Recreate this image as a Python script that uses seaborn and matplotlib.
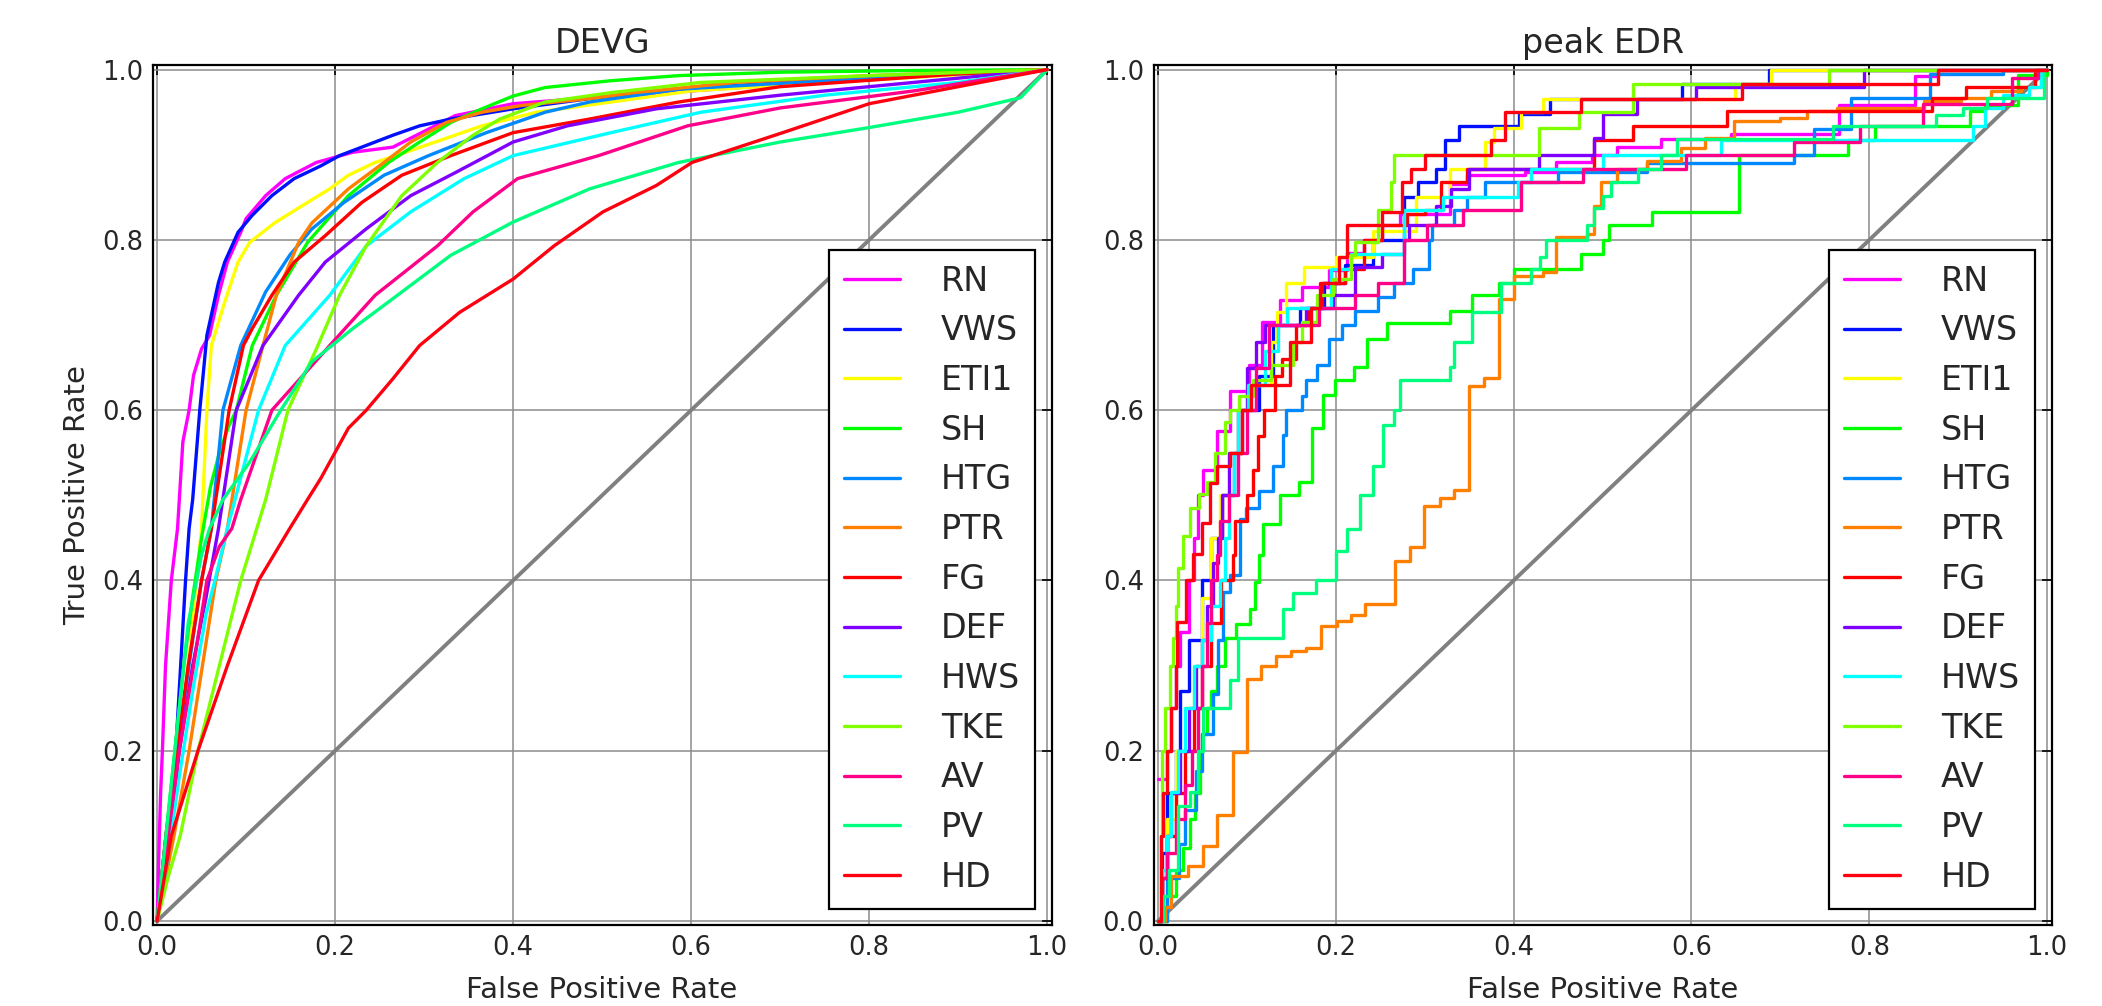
import matplotlib
matplotlib.use("Agg")
import matplotlib.pyplot as plt
import seaborn as sns
import pandas as pd

# ---------------- data ----------------
NAMES = ["RN", "VWS", "ETI1", "SH", "HTG", "PTR", "FG", "DEF", "HWS", "TKE", "AV", "PV", "HD"]
COLORS = ["#ff00ff", "#0010ff", "#ffff00", "#00ff00", "#0088ff", "#ff7f00", "#ff0000",
          "#7f00ff", "#00ffff", "#7fff00", "#ff0088", "#00ff7f", "#ff0010"]
TICKS = [0.0, 0.2, 0.4, 0.6, 0.8, 1.0]
TICK_LABELS = ["0.0", "0.2", "0.4", "0.6", "0.8", "1.0"]
DIAG = [0.0, 1.0]

# DEVG panel (smooth ROC curves)
DEVG_RN_FPR = [0, 0.002, 0.004, 0.006, 0.0095, 0.016, 0.023, 0.029, 0.036, 0.041, 0.050, 0.059, 0.069, 0.079, 0.094, 0.100, 0.122, 0.144, 0.179, 0.220, 0.265, 0.335, 0.400, 0.500, 0.600, 0.800, 1.0]
DEVG_RN_TPR = [0, 0.08, 0.15, 0.20, 0.30, 0.40, 0.461, 0.563, 0.60, 0.641, 0.672, 0.688, 0.735, 0.774, 0.809, 0.825, 0.852, 0.872, 0.891, 0.903, 0.909, 0.946, 0.96, 0.968, 0.975, 0.99, 1.0]
DEVG_VWS_FPR = [0, 0.011, 0.021, 0.032, 0.036, 0.040, 0.048, 0.056, 0.069, 0.076, 0.091, 0.107, 0.129, 0.154, 0.184, 0.205, 0.235, 0.265, 0.295, 0.33, 0.40, 0.486, 0.586, 0.75, 0.9, 1.0]
DEVG_VWS_TPR = [0, 0.1, 0.2, 0.4, 0.461, 0.495, 0.60, 0.688, 0.75, 0.774, 0.809, 0.829, 0.852, 0.872, 0.887, 0.899, 0.911, 0.923, 0.934, 0.942, 0.954, 0.966, 0.977, 0.988, 0.995, 1.0]
DEVG_ETI1_FPR = [0, 0.012, 0.025, 0.038, 0.046, 0.050, 0.056, 0.061, 0.076, 0.091, 0.104, 0.132, 0.169, 0.194, 0.215, 0.245, 0.285, 0.365, 0.426, 0.51, 0.6, 0.8, 1.0]
DEVG_ETI1_TPR = [0, 0.1, 0.2, 0.33, 0.42, 0.461, 0.60, 0.676, 0.727, 0.774, 0.797, 0.82, 0.844, 0.86, 0.876, 0.891, 0.905, 0.934, 0.95, 0.962, 0.975, 0.988, 1.0]
DEVG_SH_FPR = [0, 0.01, 0.02, 0.03, 0.04, 0.05, 0.06, 0.07, 0.08, 0.089, 0.107, 0.134, 0.169, 0.215, 0.26, 0.295, 0.33, 0.365, 0.40, 0.436, 0.51, 0.586, 0.7, 0.85, 1.0]
DEVG_SH_TPR = [0, 0.1, 0.2, 0.3, 0.38, 0.45, 0.51, 0.55, 0.58, 0.60, 0.676, 0.735, 0.797, 0.852, 0.891, 0.915, 0.938, 0.954, 0.969, 0.979, 0.987, 0.993, 0.997, 0.999, 1.0]
DEVG_HTG_FPR = [0, 0.01, 0.025, 0.04, 0.05, 0.061, 0.074, 0.094, 0.122, 0.149, 0.174, 0.21, 0.255, 0.305, 0.37, 0.436, 0.486, 0.586, 0.8, 1.0]
DEVG_HTG_TPR = [0, 0.1, 0.22, 0.33, 0.40, 0.461, 0.60, 0.676, 0.739, 0.782, 0.813, 0.844, 0.876, 0.899, 0.926, 0.95, 0.962, 0.977, 0.99, 1.0]
DEVG_PTR_FPR = [0, 0.019, 0.036, 0.051, 0.066, 0.079, 0.10, 0.119, 0.134, 0.159, 0.174, 0.215, 0.255, 0.285, 0.325, 0.365, 0.41, 0.486, 0.536, 0.65, 0.8, 1.0]
DEVG_PTR_TPR = [0, 0.1, 0.2, 0.3, 0.4, 0.461, 0.60, 0.676, 0.735, 0.797, 0.82, 0.86, 0.891, 0.915, 0.938, 0.95, 0.958, 0.966, 0.973, 0.985, 0.993, 1.0]
DEVG_FG_FPR = [0, 0.01, 0.02, 0.035, 0.05, 0.061, 0.081, 0.097, 0.107, 0.129, 0.154, 0.189, 0.23, 0.275, 0.33, 0.40, 0.486, 0.586, 0.7, 0.9, 1.0]
DEVG_FG_TPR = [0, 0.1, 0.18, 0.3, 0.4, 0.461, 0.60, 0.676, 0.696, 0.735, 0.774, 0.805, 0.844, 0.876, 0.899, 0.926, 0.942, 0.962, 0.98, 0.995, 1.0]
DEVG_DEF_FPR = [0, 0.012, 0.025, 0.04, 0.055, 0.069, 0.089, 0.119, 0.159, 0.189, 0.235, 0.285, 0.335, 0.40, 0.461, 0.561, 0.7, 0.85, 1.0]
DEVG_DEF_TPR = [0, 0.08, 0.2, 0.3, 0.38, 0.461, 0.60, 0.676, 0.735, 0.774, 0.813, 0.852, 0.879, 0.915, 0.934, 0.954, 0.97, 0.985, 1.0]
DEVG_HWS_FPR = [0, 0.01, 0.025, 0.04, 0.055, 0.065, 0.079, 0.114, 0.144, 0.194, 0.235, 0.285, 0.345, 0.40, 0.51, 0.611, 0.75, 0.9, 1.0]
DEVG_HWS_TPR = [0, 0.06, 0.17, 0.27, 0.36, 0.40, 0.461, 0.60, 0.676, 0.735, 0.793, 0.833, 0.872, 0.899, 0.926, 0.95, 0.97, 0.985, 1.0]
DEVG_TKE_FPR = [0, 0.012, 0.026, 0.046, 0.07, 0.094, 0.112, 0.122, 0.147, 0.179, 0.205, 0.235, 0.275, 0.315, 0.355, 0.385, 0.436, 0.51, 0.611, 0.8, 1.0]
DEVG_TKE_TPR = [0, 0.05, 0.1, 0.2, 0.3, 0.4, 0.461, 0.495, 0.60, 0.672, 0.735, 0.793, 0.852, 0.891, 0.923, 0.942, 0.962, 0.973, 0.985, 0.993, 1.0]
DEVG_AV_FPR = [0, 0.01, 0.025, 0.041, 0.056, 0.07, 0.084, 0.094, 0.129, 0.194, 0.245, 0.315, 0.355, 0.405, 0.496, 0.596, 0.7, 0.85, 1.0]
DEVG_AV_TPR = [0, 0.08, 0.2, 0.3, 0.4, 0.44, 0.461, 0.495, 0.60, 0.676, 0.735, 0.793, 0.833, 0.872, 0.899, 0.934, 0.955, 0.975, 1.0]
DEVG_PV_FPR = [0, 0.005, 0.02, 0.035, 0.05, 0.059, 0.074, 0.104, 0.139, 0.174, 0.22, 0.27, 0.33, 0.40, 0.486, 0.586, 0.7, 0.8, 0.9, 0.97, 1.0]
DEVG_PV_TPR = [0, 0.05, 0.2, 0.35, 0.43, 0.461, 0.495, 0.539, 0.60, 0.657, 0.696, 0.735, 0.782, 0.821, 0.86, 0.891, 0.915, 0.932, 0.95, 0.967, 1.0]
DEVG_HD_FPR = [0, 0.016, 0.046, 0.079, 0.114, 0.149, 0.169, 0.184, 0.215, 0.235, 0.265, 0.295, 0.34, 0.40, 0.446, 0.501, 0.561, 0.601, 0.7, 0.8, 0.9, 1.0]
DEVG_HD_TPR = [0, 0.1, 0.2, 0.3, 0.4, 0.461, 0.495, 0.52, 0.579, 0.60, 0.637, 0.676, 0.715, 0.754, 0.793, 0.833, 0.864, 0.891, 0.925, 0.96, 0.98, 1.0]

# peak EDR panel (stair-step ROC curves; each point = FPR where TPR jumps to that level)
EDR_RN_FPR = [0, 0.01, 0.015, 0.02, 0.025, 0.035, 0.04, 0.045, 0.051, 0.066, 0.081, 0.102, 0.117, 0.137, 0.162, 0.192, 0.212, 0.232, 0.252, 0.272, 0.328, 0.348, 0.413, 0.448, 0.488, 0.516, 0.566, 0.644, 0.766, 0.851, 0.877, 1.0]
EDR_RN_TPR = [0.167, 0.2, 0.25, 0.3, 0.34, 0.4, 0.45, 0.5, 0.53, 0.575, 0.623, 0.653, 0.704, 0.729, 0.745, 0.765, 0.785, 0.80, 0.817, 0.83, 0.866, 0.876, 0.88, 0.891, 0.90, 0.909, 0.919, 0.925, 0.959, 0.992, 1.0, 1.0]
EDR_VWS_FPR = [0, 0.005, 0.01, 0.02, 0.025, 0.035, 0.05, 0.06, 0.072, 0.085, 0.095, 0.114, 0.129, 0.16, 0.187, 0.21, 0.242, 0.277, 0.292, 0.313, 0.323, 0.338, 0.406, 0.441, 0.589, 0.687, 1.0]
EDR_VWS_TPR = [0, 0.08, 0.15, 0.2, 0.27, 0.33, 0.4, 0.45, 0.5, 0.55, 0.6, 0.64, 0.7, 0.72, 0.75, 0.77, 0.8, 0.85, 0.868, 0.883, 0.917, 0.934, 0.948, 0.966, 0.983, 1.0, 1.0]
EDR_ETI1_FPR = [0, 0.005, 0.01, 0.02, 0.03, 0.04, 0.05, 0.06, 0.07, 0.08, 0.09, 0.1, 0.127, 0.134, 0.144, 0.164, 0.2, 0.242, 0.29, 0.328, 0.368, 0.378, 0.408, 0.433, 0.649, 0.689, 1.0]
EDR_ETI1_TPR = [0, 0.05, 0.12, 0.2, 0.25, 0.3, 0.38, 0.45, 0.5, 0.55, 0.6, 0.63, 0.68, 0.715, 0.75, 0.768, 0.78, 0.81, 0.85, 0.883, 0.915, 0.932, 0.95, 0.966, 0.983, 1.0, 1.0]
EDR_SH_FPR = [0, 0.01, 0.02, 0.028, 0.036, 0.042, 0.047, 0.05, 0.055, 0.06, 0.066, 0.075, 0.088, 0.103, 0.109, 0.114, 0.118, 0.137, 0.159, 0.173, 0.186, 0.199, 0.22, 0.235, 0.257, 0.328, 0.353, 0.383, 0.40, 0.476, 0.50, 0.507, 0.556, 0.654, 0.776, 0.806, 0.913, 0.93, 0.967, 1.0]
EDR_SH_TPR = [0, 0.03, 0.06, 0.086, 0.12, 0.15, 0.2, 0.22, 0.25, 0.27, 0.3, 0.333, 0.349, 0.367, 0.398, 0.43, 0.466, 0.501, 0.516, 0.579, 0.618, 0.635, 0.651, 0.684, 0.702, 0.717, 0.735, 0.75, 0.766, 0.784, 0.80, 0.817, 0.833, 0.90, 0.917, 0.934, 0.951, 0.959, 0.994, 1.0]
EDR_HTG_FPR = [0, 0.01, 0.024, 0.03, 0.043, 0.05, 0.062, 0.068, 0.073, 0.081, 0.092, 0.099, 0.114, 0.129, 0.141, 0.144, 0.162, 0.167, 0.179, 0.192, 0.207, 0.222, 0.247, 0.265, 0.287, 0.305, 0.308, 0.333, 0.348, 0.368, 0.45, 0.55, 0.715, 0.738, 0.779, 0.868, 0.95, 1.0]
EDR_HTG_TPR = [0, 0.05, 0.09, 0.131, 0.176, 0.22, 0.267, 0.33, 0.386, 0.407, 0.472, 0.485, 0.505, 0.534, 0.571, 0.6, 0.617, 0.635, 0.653, 0.684, 0.7, 0.717, 0.733, 0.749, 0.766, 0.8, 0.817, 0.835, 0.85, 0.868, 0.88, 0.89, 0.90, 0.93, 0.967, 0.995, 1.0, 1.0]
EDR_PTR_FPR = [0, 0.008, 0.015, 0.034, 0.051, 0.066, 0.084, 0.100, 0.116, 0.133, 0.150, 0.167, 0.183, 0.201, 0.217, 0.233, 0.266, 0.283, 0.299, 0.317, 0.333, 0.35, 0.367, 0.383, 0.40, 0.433, 0.448, 0.483, 0.49, 0.498, 0.516, 0.55, 0.588, 0.615, 0.648, 0.70, 0.73, 0.764, 0.862, 0.903, 0.937, 0.971, 0.993, 1.0]
EDR_PTR_TPR = [0, 0.017, 0.053, 0.065, 0.088, 0.125, 0.198, 0.284, 0.300, 0.311, 0.317, 0.321, 0.347, 0.353, 0.359, 0.372, 0.423, 0.439, 0.487, 0.497, 0.506, 0.629, 0.638, 0.731, 0.758, 0.762, 0.803, 0.807, 0.84, 0.868, 0.883, 0.893, 0.908, 0.92, 0.94, 0.943, 0.951, 0.955, 0.963, 0.967, 0.975, 0.98, 1.0, 1.0]
EDR_FG_FPR = [0, 0.005, 0.01, 0.02, 0.03, 0.04, 0.05, 0.06, 0.071, 0.084, 0.087, 0.1, 0.107, 0.113, 0.119, 0.132, 0.14, 0.155, 0.17, 0.184, 0.21, 0.232, 0.252, 0.28, 0.3, 0.318, 0.348, 0.49, 0.534, 0.64, 0.871, 0.909, 0.986, 1.0]
EDR_FG_TPR = [0, 0.05, 0.1, 0.15, 0.2, 0.25, 0.3, 0.35, 0.40, 0.43, 0.47, 0.501, 0.53, 0.57, 0.6, 0.64, 0.66, 0.7, 0.72, 0.75, 0.766, 0.8, 0.817, 0.83, 0.835, 0.868, 0.883, 0.917, 0.934, 0.951, 0.967, 0.98, 1.0, 1.0]
EDR_DEF_FPR = [0, 0.005, 0.01, 0.015, 0.025, 0.035, 0.043, 0.05, 0.055, 0.062, 0.068, 0.072, 0.08, 0.09, 0.1, 0.11, 0.12, 0.167, 0.197, 0.222, 0.252, 0.277, 0.282, 0.313, 0.33, 0.35, 0.428, 0.49, 0.5, 0.539, 0.605, 0.794, 1.0]
EDR_DEF_TPR = [0, 0.05, 0.1, 0.15, 0.2, 0.25, 0.3, 0.33, 0.37, 0.42, 0.45, 0.5, 0.55, 0.6, 0.65, 0.68, 0.70, 0.72, 0.735, 0.768, 0.784, 0.80, 0.817, 0.84, 0.86, 0.883, 0.90, 0.92, 0.948, 0.966, 0.98, 1.0, 1.0]
EDR_HWS_FPR = [0, 0.005, 0.01, 0.015, 0.022, 0.03, 0.04, 0.05, 0.06, 0.07, 0.075, 0.08, 0.085, 0.09, 0.101, 0.12, 0.135, 0.145, 0.195, 0.217, 0.277, 0.32, 0.405, 0.42, 0.5, 0.633, 0.917, 0.93, 0.95, 0.98, 0.993, 1.0]
EDR_HWS_TPR = [0, 0.06, 0.1, 0.151, 0.2, 0.25, 0.3, 0.33, 0.37, 0.4, 0.45, 0.5, 0.55, 0.6, 0.63, 0.67, 0.7, 0.72, 0.766, 0.784, 0.835, 0.85, 0.868, 0.883, 0.90, 0.917, 0.934, 0.955, 0.97, 0.98, 1.0, 1.0]
EDR_TKE_FPR = [0, 0.003, 0.005, 0.008, 0.013, 0.017, 0.02, 0.0225, 0.028, 0.036, 0.046, 0.055, 0.064, 0.075, 0.081, 0.091, 0.107, 0.127, 0.152, 0.162, 0.179, 0.197, 0.217, 0.222, 0.247, 0.262, 0.265, 0.428, 0.473, 0.534, 0.755, 1.0]
EDR_TKE_TPR = [0, 0.1, 0.2, 0.25, 0.3, 0.333, 0.37, 0.415, 0.452, 0.485, 0.502, 0.516, 0.55, 0.586, 0.6, 0.617, 0.635, 0.653, 0.68, 0.704, 0.735, 0.754, 0.782, 0.797, 0.835, 0.868, 0.90, 0.932, 0.95, 0.983, 1.0, 1.0]
EDR_AV_FPR = [0, 0.005, 0.01, 0.02, 0.03, 0.038, 0.045, 0.05, 0.055, 0.06, 0.066, 0.07, 0.08, 0.09, 0.1, 0.11, 0.125, 0.181, 0.222, 0.247, 0.277, 0.303, 0.343, 0.408, 0.478, 0.594, 0.715, 0.79, 0.86, 0.96, 0.99, 1.0]
EDR_AV_TPR = [0, 0.05, 0.08, 0.12, 0.16, 0.2, 0.25, 0.3, 0.35, 0.4, 0.43, 0.47, 0.5, 0.55, 0.6, 0.65, 0.7, 0.72, 0.735, 0.75, 0.8, 0.817, 0.835, 0.868, 0.883, 0.90, 0.915, 0.934, 0.96, 0.99, 1.0, 1.0]
EDR_PV_FPR = [0, 0.006, 0.012, 0.0225, 0.036, 0.045, 0.051, 0.081, 0.09, 0.141, 0.152, 0.178, 0.20, 0.212, 0.227, 0.242, 0.253, 0.265, 0.272, 0.328, 0.333, 0.353, 0.386, 0.42, 0.43, 0.436, 0.483, 0.49, 0.50, 0.51, 0.54, 0.566, 0.584, 0.759, 0.875, 0.905, 0.932, 0.997, 1.0]
EDR_PV_TPR = [0, 0.03, 0.06, 0.135, 0.151, 0.20, 0.25, 0.283, 0.333, 0.367, 0.385, 0.40, 0.435, 0.46, 0.50, 0.534, 0.583, 0.60, 0.635, 0.651, 0.68, 0.715, 0.75, 0.766, 0.78, 0.80, 0.817, 0.837, 0.852, 0.868, 0.883, 0.90, 0.918, 0.934, 0.947, 0.955, 0.967, 1.0, 1.0]
EDR_HD_FPR = [0, 0.003, 0.006, 0.01, 0.015, 0.02, 0.021, 0.032, 0.039, 0.05, 0.058, 0.066, 0.081, 0.095, 0.105, 0.149, 0.172, 0.182, 0.204, 0.212, 0.252, 0.274, 0.285, 0.30, 0.375, 0.39, 0.476, 0.657, 0.877, 1.0]
EDR_HD_TPR = [0, 0.1, 0.15, 0.2, 0.25, 0.3, 0.351, 0.40, 0.431, 0.468, 0.514, 0.535, 0.55, 0.6, 0.63, 0.68, 0.72, 0.75, 0.78, 0.817, 0.833, 0.868, 0.883, 0.90, 0.917, 0.95, 0.966, 0.983, 1.0, 1.0]

DEVG_FPR = [DEVG_RN_FPR, DEVG_VWS_FPR, DEVG_ETI1_FPR, DEVG_SH_FPR, DEVG_HTG_FPR, DEVG_PTR_FPR, DEVG_FG_FPR,
            DEVG_DEF_FPR, DEVG_HWS_FPR, DEVG_TKE_FPR, DEVG_AV_FPR, DEVG_PV_FPR, DEVG_HD_FPR]
DEVG_TPR = [DEVG_RN_TPR, DEVG_VWS_TPR, DEVG_ETI1_TPR, DEVG_SH_TPR, DEVG_HTG_TPR, DEVG_PTR_TPR, DEVG_FG_TPR,
            DEVG_DEF_TPR, DEVG_HWS_TPR, DEVG_TKE_TPR, DEVG_AV_TPR, DEVG_PV_TPR, DEVG_HD_TPR]
EDR_FPR = [EDR_RN_FPR, EDR_VWS_FPR, EDR_ETI1_FPR, EDR_SH_FPR, EDR_HTG_FPR, EDR_PTR_FPR, EDR_FG_FPR,
           EDR_DEF_FPR, EDR_HWS_FPR, EDR_TKE_FPR, EDR_AV_FPR, EDR_PV_FPR, EDR_HD_FPR]
EDR_TPR = [EDR_RN_TPR, EDR_VWS_TPR, EDR_ETI1_TPR, EDR_SH_TPR, EDR_HTG_TPR, EDR_PTR_TPR, EDR_FG_TPR,
           EDR_DEF_TPR, EDR_HWS_TPR, EDR_TKE_TPR, EDR_AV_TPR, EDR_PV_TPR, EDR_HD_TPR]

# ---------------- style ----------------
sns.set_style("white")
plt.rcParams["font.family"] = ["DejaVu Sans"]
plt.rcParams["xtick.direction"] = "in"
plt.rcParams["ytick.direction"] = "in"

fig = plt.figure(figsize=(21.02, 10.06), dpi=100)
ax1 = fig.add_axes([0.0726, 0.0802, 0.4277, 0.8548])
ax2 = fig.add_axes([0.5488, 0.0802, 0.4272, 0.8548])

LW = 2.4


def draw_panel(ax, fprs, tprs, title, steps, show_ylabel):
    diag = pd.DataFrame({"x": DIAG, "y": DIAG})
    sns.lineplot(data=diag, x="x", y="y", ax=ax, color="#808080", lw=2.8,
                 estimator=None, sort=False, legend=False)
    for name, col, fx, ty in zip(NAMES, COLORS, fprs, tprs):
        df = pd.DataFrame({"fpr": fx, "tpr": ty})
        kws = dict(drawstyle="steps-post") if steps else {}
        sns.lineplot(data=df, x="fpr", y="tpr", ax=ax, color=col, lw=LW, label=name,
                     estimator=None, sort=False, **kws)
    ax.set_xlim(-0.005, 1.005)
    ax.set_ylim(-0.005, 1.005)
    ax.set_xticks(TICKS)
    ax.set_yticks(TICKS)
    ax.set_xticklabels(TICK_LABELS)
    ax.set_yticklabels(TICK_LABELS)
    ax.tick_params(axis="both", which="major", direction="in", length=7, width=1.2,
                   top=True, right=True, labelsize=18.5, pad=7, color="black")
    ax.grid(True, color="#8c8c8c", lw=1.1, ls="-")
    for sp in ax.spines.values():
        sp.set_visible(True)
        sp.set_color("black")
        sp.set_linewidth(1.6)
    ax.set_title(title, fontsize=24, pad=9)
    ax.set_xlabel("False Positive Rate", fontsize=21, labelpad=11)
    ax.set_ylabel("True Positive Rate" if show_ylabel else "", fontsize=21, labelpad=8)
    leg = ax.legend(loc="lower right", borderaxespad=0.5,
                    fontsize=24, frameon=True, fancybox=False, framealpha=1,
                    edgecolor="black", handlelength=1.7, handletextpad=1.21,
                    labelspacing=0.5, borderpad=0.45)
    leg.get_frame().set_linewidth(1.6)
    for ln in leg.get_lines():
        ln.set_linewidth(LW)


draw_panel(ax1, DEVG_FPR, DEVG_TPR, "DEVG", False, True)
draw_panel(ax2, EDR_FPR, EDR_TPR, "peak EDR", True, False)

fig.savefig("out.png", dpi=100, facecolor="white")
